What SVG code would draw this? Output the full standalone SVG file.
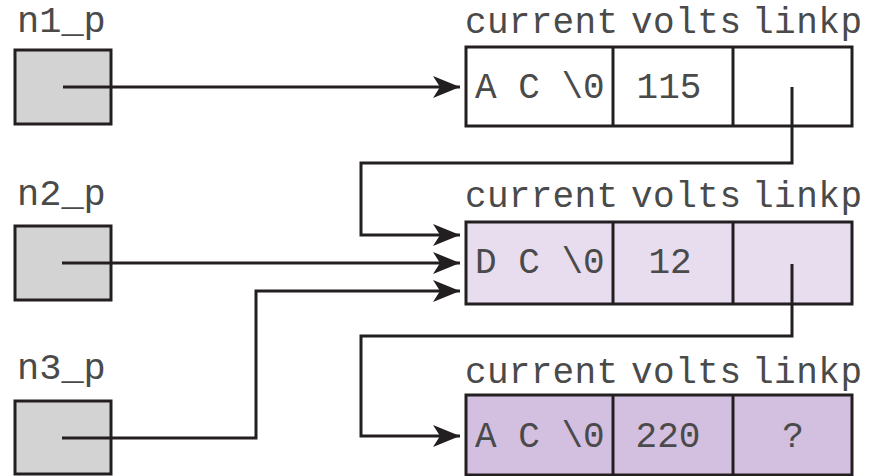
<svg xmlns="http://www.w3.org/2000/svg" width="882" height="476" viewBox="0 0 882 476">
<style>
.ptr{fill:#d3d3d3;stroke:#231f20;stroke-width:3}
.cell{stroke:#231f20;stroke-width:3}
.s1{fill:#ffffff}
.s2{fill:#e8dcef}
.s3{fill:#d3bfe0}
.lbl{font-family:"Liberation Mono","DejaVu Sans Mono",monospace;font-size:37px;fill:#4a4a4a}
.hdr{font-family:"Liberation Mono","DejaVu Sans Mono",monospace;font-size:36px;fill:#4a4a4a}
.val{font-family:"Liberation Mono","DejaVu Sans Mono",monospace;font-size:36px;fill:#4a4a4a}
.mid{text-anchor:middle}
.con{fill:none;stroke:#231f20;stroke-width:3;marker-end:url(#arr)}
</style>
<defs>
<marker id="arr" viewBox="0 0 27 22" refX="27" refY="11" markerWidth="27" markerHeight="22" markerUnits="userSpaceOnUse" orient="auto">
<path d="M0,0 L27,11 L0,22 L7,11 z" fill="#231f20"/>
</marker>
</defs>
<rect width="882" height="476" fill="#ffffff"/>
<g id="n1_p">
<text class="lbl" x="17" y="32">n1_p</text>
<rect class="ptr" x="15" y="50" width="96" height="74"/>
</g>
<g id="n2_p">
<text class="lbl" x="17" y="205">n2_p</text>
<rect class="ptr" x="15" y="226" width="96" height="74"/>
</g>
<g id="n3_p">
<text class="lbl" x="17" y="379">n3_p</text>
<rect class="ptr" x="15" y="401" width="96" height="73"/>
</g>
<g id="node1">
<text class="hdr" x="465" y="33" textLength="153" lengthAdjust="spacing">current</text>
<text class="hdr" x="631" y="33" textLength="110" lengthAdjust="spacing">volts</text>
<text class="hdr" x="752" y="33" textLength="110" lengthAdjust="spacing">linkp</text>
<rect class="cell s1" x="466" y="47" width="386" height="79"/>
<line class="cell" x1="613" y1="47" x2="613" y2="126"/>
<line class="cell" x1="733" y1="47" x2="733" y2="126"/>
<text class="val" x="475" y="98">A C \0</text>
<text class="val mid" x="669" y="98">115</text>
</g>
<g id="node2">
<text class="hdr" x="465" y="207" textLength="153" lengthAdjust="spacing">current</text>
<text class="hdr" x="631" y="207" textLength="110" lengthAdjust="spacing">volts</text>
<text class="hdr" x="752" y="207" textLength="110" lengthAdjust="spacing">linkp</text>
<rect class="cell s2" x="466" y="222" width="386" height="82"/>
<line class="cell" x1="613" y1="222" x2="613" y2="304"/>
<line class="cell" x1="733" y1="222" x2="733" y2="304"/>
<text class="val" x="475" y="273">D C \0</text>
<text class="val mid" x="670" y="273">12</text>
</g>
<g id="node3">
<text class="hdr" x="465" y="383" textLength="153" lengthAdjust="spacing">current</text>
<text class="hdr" x="631" y="383" textLength="110" lengthAdjust="spacing">volts</text>
<text class="hdr" x="752" y="383" textLength="110" lengthAdjust="spacing">linkp</text>
<rect class="cell s3" x="466" y="395" width="386" height="80"/>
<line class="cell" x1="613" y1="395" x2="613" y2="475"/>
<line class="cell" x1="733" y1="395" x2="733" y2="475"/>
<text class="val" x="475" y="447">A C \0</text>
<text class="val mid" x="668" y="447">220</text>
<text class="val mid" x="793" y="447">?</text>
</g>
<g id="connectors">
<path class="con" d="M63,87 H460"/>
<path class="con" d="M792,87 V163 H361 V235 H460"/>
<path class="con" d="M62,263 H460"/>
<path class="con" d="M62,438 H256 V291 H460"/>
<path class="con" d="M792,264 V336 H361 V436 H460"/>
</g>
</svg>
